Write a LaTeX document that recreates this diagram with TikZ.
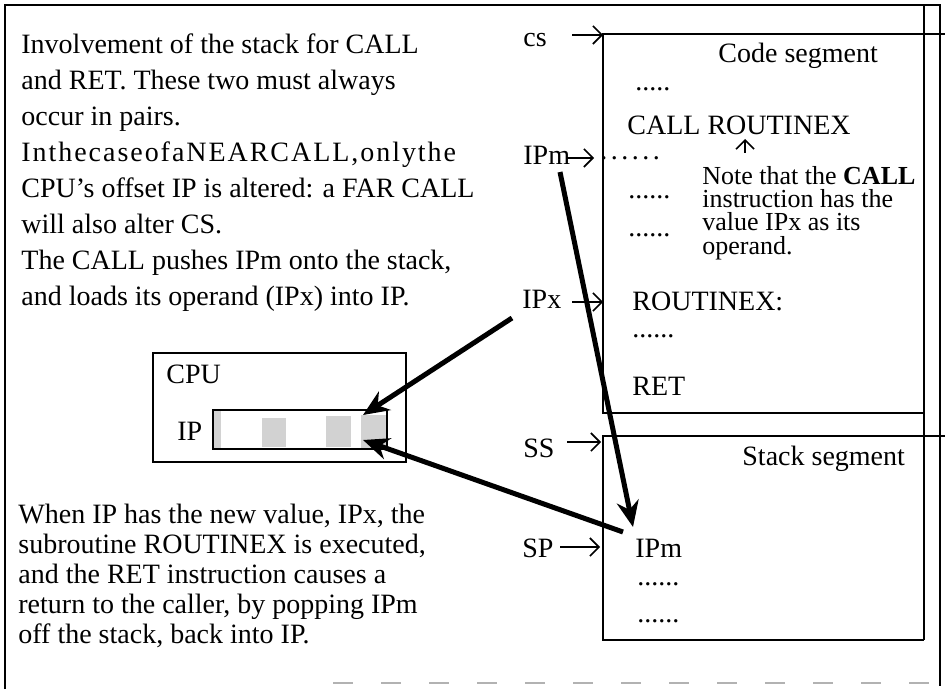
\documentclass[tikz,border=0pt]{standalone}
\usepackage{fontspec}
\setmainfont{Liberation Serif}
\usetikzlibrary{arrows.meta}
\begin{document}
\begin{tikzpicture}[x=0.5pt, y=-0.5pt,
  every node/.style={inner sep=0pt, font=\fontsize{14}{17}\selectfont},
  txt/.style={anchor=base west},
  para/.style={anchor=north west, align=left},
  frame/.style={line width=1pt},
  segline/.style={line width=1.4pt},
  ptr/.style={line width=0.8pt, -{Straight Barb[length=4.5pt,width=9pt]}},
  bigarrow/.style={line width=2.5pt, -{Stealth[length=13pt,width=11pt]}},
  cell/.style={fill=gray!35}]
\useasboundingbox (0,0) rectangle (945,689);
% outer frame
\draw[frame] (5,689) -- (5,5) -- (940,5) -- (940,686);
\draw[gray!60, line width=1pt, dash pattern=on 10pt off 14pt] (333,683) -- (935,683);
% segments
\coordinate (codeTL) at (603,34);
\coordinate (codeBL) at (603,413);
\coordinate (stackTL) at (603,436);
\coordinate (stackBL) at (603,640);
\draw[segline] (924,5) -- (924,640);
\draw[segline] (945,34) -- (codeTL) -- (codeBL) -- (924,413);
\draw[segline] (945,436) -- (stackTL) -- (stackBL) -- (924,640);
% text on the left
\node[para, font=\fontsize{14}{18}\selectfont] (intro) at (21,33) {Involvement of the stack for CALL\\
  and RET. These two must always\\
  occur in pairs.\\
  {\addfontfeature{LetterSpace=7}InthecaseofaNEARCALL,onlythe}\\
  CPU’s offset IP is altered: a FAR CALL\\
  will also alter CS.\\
  The CALL pushes IPm onto the stack,\\
  and loads its operand (IPx) into IP.};
\node[para, font=\fontsize{14}{15}\selectfont] (outro) at (18,504) {When IP has the new value, IPx, the\\
  subroutine ROUTINEX is executed,\\
  and the RET instruction causes a\\
  return to the caller, by popping IPm\\
  off the stack, back into IP.};
% CPU
\draw[frame] (153,353) rectangle (406,462);
\node[txt] (cpu) at (166,383) {CPU};
\node[txt] (ip) at (177,440) {IP};
\fill[cell] (213,410) rectangle (221,449);
\fill[cell] (262,418) rectangle (286,447);
\fill[cell] (326,416) rectangle (351,447);
\fill[cell] (361,415) rectangle (387,448);
\draw[line width=1.3pt] (213,410) rectangle (387,449);
\coordinate (ipin) at (363,415);
\coordinate (ipback) at (363,440);
% code segment
\node[txt] (cs) at (523,47) {cs};
\node[txt] (codename) at (718,63) {Code segment};
\node[txt] (dots1) at (635,91) {.....};
\node[txt] (call) at (627,135) {CALL ROUTINEX};
\node[txt] (ipm) at (523,165) {IPm};
\node[txt] (ipmdots) at (600,160) {\addfontfeature{LetterSpace=12.5}......};
\node[para, font=\fontsize{13}{11.6}\selectfont] (note) at (702,166) {Note that the \textbf{CALL}\\
  instruction has the\\
  value IPx as its\\
  operand.};
\node[txt] (dots2) at (628,199) {......};
\node[txt] (dots3) at (628,236) {......};
\node[txt] (ipx) at (522,308) {IPx};
\node[txt] (routine) at (632,310) {ROUTINEX:};
\node[txt] (dots4) at (632,337) {......};
\node[txt] (ret) at (632,395) {RET};
% stack segment
\node[txt] (ss) at (523,457) {SS};
\node[txt] (stackname) at (742,465) {Stack segment};
\node[txt] (sp) at (522,557) {SP};
\node[txt] (ipmstack) at (635,557) {IPm};
\node[txt] (dots5) at (637,585) {......};
\node[txt] (dots6) at (637,622) {......};
% pointers
\coordinate (csfrom) at (572,35);   \coordinate (csto) at (603,35);
\coordinate (ipmfrom) at (567,158); \coordinate (ipmto) at (594,158);
\coordinate (ipxfrom) at (572,302); \coordinate (ipxto) at (603,302);
\coordinate (ssfrom) at (567,442);  \coordinate (ssto) at (601,442);
\coordinate (spfrom) at (560,547);  \coordinate (spto) at (600,547);
\coordinate (notefrom) at (745,153); \coordinate (noteto) at (745,139);
\draw[ptr] (csfrom) -- (csto);
\draw[ptr] (ipmfrom) -- (ipmto);
\draw[ptr] (ipxfrom) -- (ipxto);
\draw[ptr] (ssfrom) -- (ssto);
\draw[ptr] (spfrom) -- (spto);
\draw[ptr] (notefrom) -- (noteto);
% data flow
\coordinate (loadfrom) at (512,318);
\coordinate (pushfrom) at (560,172);
\coordinate (pushto) at (633,527);
\coordinate (popfrom) at (623,532);
\draw[bigarrow] (loadfrom) -- (ipin);
\draw[bigarrow] (pushfrom) -- (pushto);
\draw[bigarrow] (popfrom) -- (ipback);
\end{tikzpicture}
\end{document}
